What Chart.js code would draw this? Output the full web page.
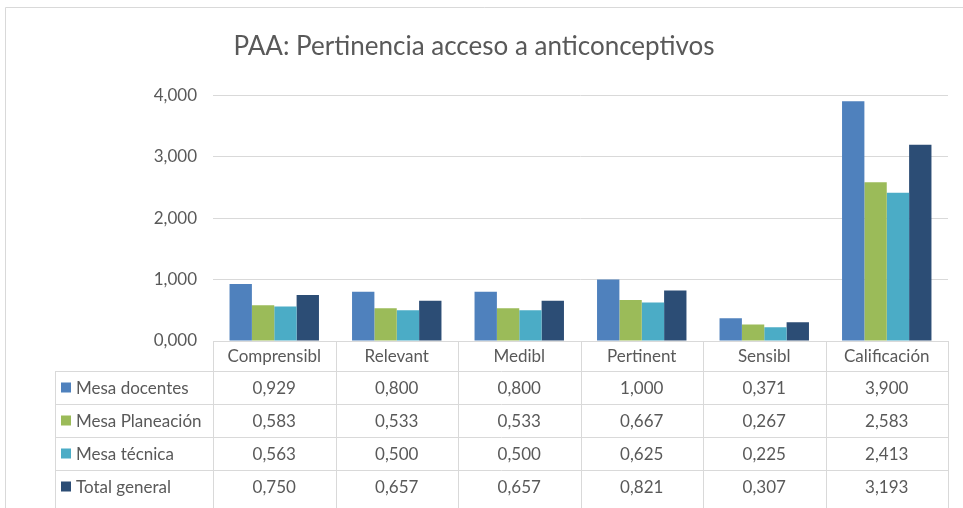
<!DOCTYPE html>
<html lang="es">
<head>
<meta charset="UTF-8">
<title>PAA: Pertinencia acceso a anticonceptivos</title>
<style>
  body { margin: 0; background: #fff; }
  canvas { display: block; }
</style>
</head>
<body>
<canvas id="grafica" width="963" height="508"></canvas>

<script src="https://cdn.jsdelivr.net/npm/chart.js@4.4.1/dist/chart.umd.min.js"></script>
<script>
const categorias = ['Comprensibl', 'Relevant', 'Medibl', 'Pertinent', 'Sensibl', 'Calificación'];
const nombresSeries = ['Mesa docentes', 'Mesa Planeación', 'Mesa técnica', 'Total general'];
const mesaDocentes = [0.929, 0.800, 0.800, 1.000, 0.371, 3.900];
const mesaPlaneacion = [0.583, 0.533, 0.533, 0.667, 0.267, 2.583];
const mesaTecnica = [0.563, 0.500, 0.500, 0.625, 0.225, 2.413];
const totalGeneral = [0.750, 0.657, 0.657, 0.821, 0.307, 3.193];
const ticksY = [0, 1, 2, 3, 4];

const colores = ['#4F81BD', '#9BBB59', '#4BACC6', '#2C4D75'];
const series = [mesaDocentes, mesaPlaneacion, mesaTecnica, totalGeneral];
const fuente = 'Lato, "Liberation Sans", sans-serif';
const gris = '#595959';
const lineaGris = '#D9D9D9';

// formato con coma decimal
function formato(v) {
  return v.toFixed(3).replace('.', ',');
}

// marco exterior del grafico
const marco = {
  id: 'marco',
  beforeDraw(chart) {
    const ctx = chart.ctx;
    ctx.save();
    ctx.strokeStyle = lineaGris;
    ctx.lineWidth = 1;
    ctx.beginPath();
    ctx.moveTo(5.5, chart.height);
    ctx.lineTo(5.5, 7.5);
    ctx.lineTo(chart.width, 7.5);
    ctx.stroke();
    ctx.restore();
  }
};

// tabla de datos debajo del eje X
const tablaDatos = {
  id: 'tablaDatos',
  afterDraw(chart) {
    const ctx = chart.ctx;
    const area = chart.chartArea;
    const xs = chart.scales.x;
    const ancho = (area.right - area.left) / categorias.length;
    const altoCab = 30;
    const altoFila = 33;
    const izqLeyenda = 55;
    const top = area.bottom;
    const filaTop = top + altoCab;

    ctx.save();
    ctx.strokeStyle = lineaGris;
    ctx.lineWidth = 1;
    ctx.beginPath();
    // linea base y cabecera
    ctx.moveTo(area.left, Math.round(top) + 0.5);
    ctx.lineTo(area.right, Math.round(top) + 0.5);
    for (let r = 0; r < nombresSeries.length; r++) {
      const y = Math.round(filaTop + r * altoFila) + 0.5;
      ctx.moveTo(izqLeyenda, y);
      ctx.lineTo(area.right, y);
    }
    // columnas
    for (let i = 0; i <= categorias.length; i++) {
      const x = Math.round(area.left + i * ancho) + 0.5;
      ctx.moveTo(x, top);
      ctx.lineTo(x, chart.height);
    }
    ctx.moveTo(izqLeyenda + 0.5, filaTop);
    ctx.lineTo(izqLeyenda + 0.5, chart.height);
    ctx.stroke();

    ctx.fillStyle = gris;
    ctx.font = '17px ' + fuente;
    ctx.textBaseline = 'middle';
    ctx.textAlign = 'center';
    categorias.forEach((c, i) => {
      ctx.fillText(c, xs.getPixelForValue(i), top + altoCab / 2 + 1);
    });

    series.forEach((datos, r) => {
      const yc = filaTop + r * altoFila + altoFila / 2 + 1;
      ctx.fillStyle = colores[r];
      ctx.fillRect(61, yc - 6, 10, 10);
      ctx.fillStyle = gris;
      ctx.textAlign = 'left';
      ctx.fillText(nombresSeries[r], 76, yc);
      ctx.textAlign = 'center';
      datos.forEach((v, i) => {
        ctx.fillText(formato(v), xs.getPixelForValue(i), yc);
      });
    });
    ctx.restore();
  }
};

const ctx = document.getElementById('grafica').getContext('2d');
const grafica = new Chart(ctx, {
  type: 'bar',
  data: {
    labels: categorias,
    datasets: series.map((datos, i) => ({
      label: nombresSeries[i],
      data: datos,
      backgroundColor: colores[i],
      borderWidth: 0,
      barPercentage: 1,
      categoryPercentage: 0.73
    }))
  },
  options: {
    responsive: false,
    animation: false,
    layout: { padding: { left: 0, right: 15, top: 0, bottom: 167 } },
    plugins: {
      legend: { display: false },
      tooltip: { enabled: false },
      title: {
        display: true,
        text: 'PAA: Pertinencia acceso a anticonceptivos',
        color: gris,
        font: { family: fuente, size: 26, weight: 'normal' },
        padding: { top: 31, bottom: 33 }
      }
    },
    scales: {
      x: { display: false },
      y: {
        min: 0,
        max: 4,
        afterFit(scale) { scale.width = 213; },
        afterBuildTicks(scale) { scale.ticks = ticksY.map(v => ({ value: v })); },
        ticks: {
          color: gris,
          padding: 16,
          font: { family: fuente, size: 17 },
          callback: v => formato(v)
        },
        grid: { color: lineaGris, drawTicks: false },
        border: { display: false }
      }
    }
  },
  plugins: [marco, tablaDatos]
});
</script>
</body>
</html>
